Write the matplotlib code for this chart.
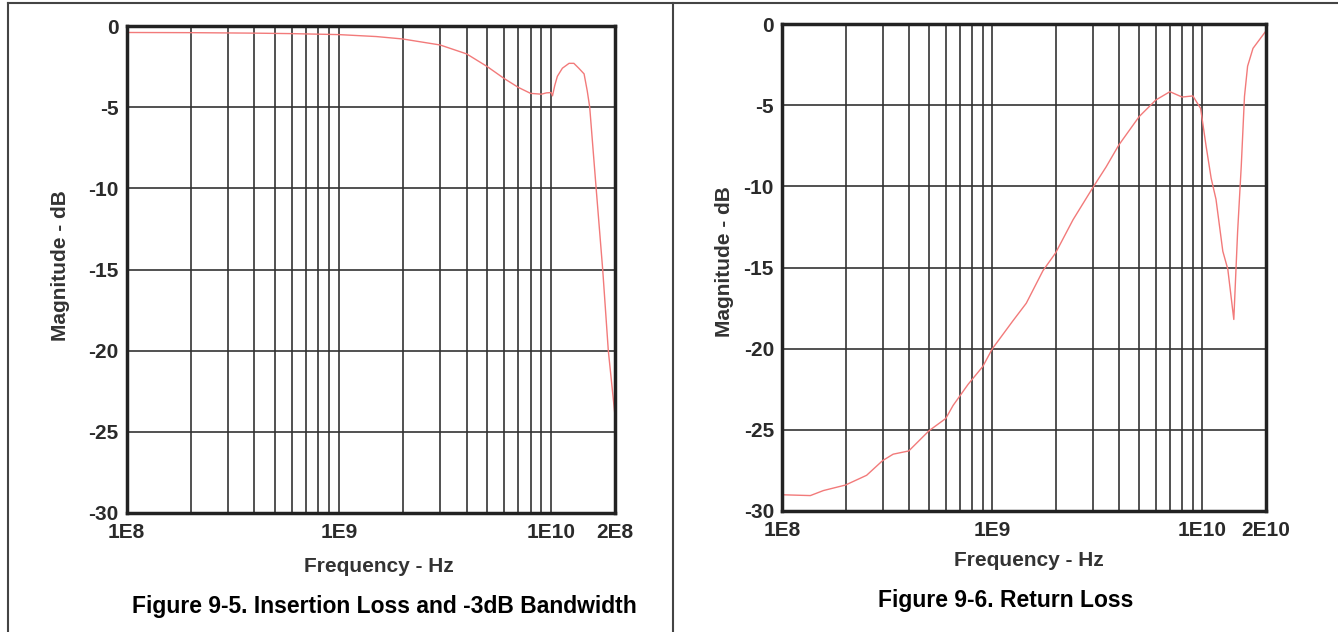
import matplotlib
matplotlib.use('Agg')
import matplotlib.pyplot as plt
from matplotlib.lines import Line2D
from matplotlib.ticker import FixedLocator, LogLocator, NullFormatter

plt.rcParams['font.family'] = ['Liberation Sans', 'DejaVu Sans']
plt.rcParams['font.weight'] = 'bold'
plt.rcParams['axes.unicode_minus'] = False

# Figure 9-5: insertion loss
il_freq = [1e8, 2e8, 4e8, 6e8, 1e9, 1.5e9, 2e9, 3e9, 4e9, 5e9, 6e9, 7e9, 8e9,
           9e9, 9.5e9, 1e10, 1.015e10, 1.04e10, 1.07e10, 1.13e10, 1.215e10,
           1.28e10, 1.35e10, 1.43e10, 1.48e10, 1.52e10, 1.63e10, 1.75e10,
           1.86e10, 2e10]
il_db = [-0.40, -0.41, -0.44, -0.47, -0.53, -0.65, -0.80, -1.17, -1.72, -2.5,
         -3.23, -3.78, -4.15, -4.2, -4.12, -4.1, -4.3, -3.67, -3.1, -2.6, -2.3,
         -2.3, -2.6, -2.95, -4.0, -5.0, -10.0, -15.0, -20.0, -24.0]

# Figure 9-6: return loss
rl_freq = [1e8, 1.36e8, 1.57e8, 2e8, 2.52e8, 3e8, 3.37e8, 4e8, 5e8, 6e8,
           6.5e8, 7.66e8, 9e8, 1e9, 1.25e9, 1.45e9, 1.74e9, 2e9, 2.42e9, 3e9,
           3.48e9, 4e9, 5e9, 6e9, 7e9, 8e9, 9e9, 9.8e9, 1.04e10, 1.1e10,
           1.16e10, 1.25e10, 1.32e10, 1.41e10, 1.47e10, 1.53e10, 1.585e10,
           1.64e10, 1.74e10, 2e10]
rl_db = [-29.0, -29.05, -28.74, -28.4, -27.8, -26.9, -26.5, -26.3, -25.05,
         -24.3, -23.5, -22.2, -21.1, -20.0, -18.3, -17.2, -15.2, -14.1, -12.06,
         -10.1, -8.8, -7.45, -5.7, -4.68, -4.17, -4.5, -4.43, -5.2, -7.5, -9.5,
         -10.8, -14.0, -15.1, -18.2, -12.8, -8.75, -4.46, -2.6, -1.5, -0.45]

x_ticks = [1e8, 1e9, 1e10, 2e10]
il_xlabels = ['1E8', '1E9', '1E10', '2E8']
rl_xlabels = ['1E8', '1E9', '1E10', '2E10']
y_ticks = [0, -5, -10, -15, -20, -25, -30]

W, H = 1338, 632
fig = plt.figure(figsize=(W / 100, H / 100), dpi=100)


def box(l, t, r, b):
    return [l / W, 1 - b / H, (r - l) / W, (b - t) / H]


def setup(ax, xlabels):
    ax.set_xscale('log')
    ax.set_xlim(1e8, 2e10)
    ax.set_ylim(-30, 0)
    ax.xaxis.set_major_locator(FixedLocator(x_ticks))
    ax.set_xticklabels(xlabels)
    ax.xaxis.set_minor_locator(LogLocator(base=10, subs=range(2, 10), numticks=20))
    ax.xaxis.set_minor_formatter(NullFormatter())
    ax.set_yticks(y_ticks)
    ax.set_yticklabels([str(v) for v in y_ticks])
    ax.tick_params(which='both', length=0, labelsize=15, labelcolor='#2a2a2a')
    ax.tick_params(axis='x', pad=7.5)
    ax.tick_params(axis='y', pad=6)
    ax.grid(which='both', color='#333333', lw=1.2)
    ax.set_axisbelow(True)
    for s in ax.spines.values():
        s.set_linewidth(2.5)
        s.set_color('#222222')


ax1 = fig.add_axes(box(126.7, 26, 615, 513))
setup(ax1, il_xlabels)
ax1.plot(il_freq, il_db, color='#f27a7a', lw=1.0)

ax2 = fig.add_axes(box(782.3, 24, 1265.7, 511))
setup(ax2, rl_xlabels)
ax2.plot(rl_freq, rl_db, color='#f27a7a', lw=1.0)

# axis labels and captions
fig.text(60 / W, 1 - 266 / H, 'Magnitude - dB', rotation=90, ha='center',
         va='center', fontsize=15, color='#333')
fig.text(725 / W, 1 - 262 / H, 'Magnitude - dB', rotation=90, ha='center',
         va='center', fontsize=15, color='#333')
fig.text(379 / W, 1 - 567 / H, 'Frequency - Hz', ha='center', va='center',
         fontsize=15, color='#333')
fig.text(1029 / W, 1 - 560 / H, 'Frequency - Hz', ha='center', va='center',
         fontsize=15, color='#333')
fig.text(384 / W, 1 - 607 / H, 'Figure 9-5. Insertion Loss and -3dB Bandwidth',
         ha='center', va='center', fontsize=16.5, color='#000')
fig.text(1006 / W, 1 - 600 / H, 'Figure 9-6. Return Loss',
         ha='center', va='center', fontsize=16.5, color='#000')

# panel frame lines
frame = dict(color='#444444', lw=1.5, transform=fig.transFigure)
fig.add_artist(Line2D([8 / W, 1], [1 - 3 / H, 1 - 3 / H], **frame))
fig.add_artist(Line2D([8 / W, 8 / W], [0, 1 - 3 / H], **frame))
fig.add_artist(Line2D([673 / W, 673 / W], [0, 1 - 3 / H], **frame))

fig.savefig('out.png', dpi=100)
